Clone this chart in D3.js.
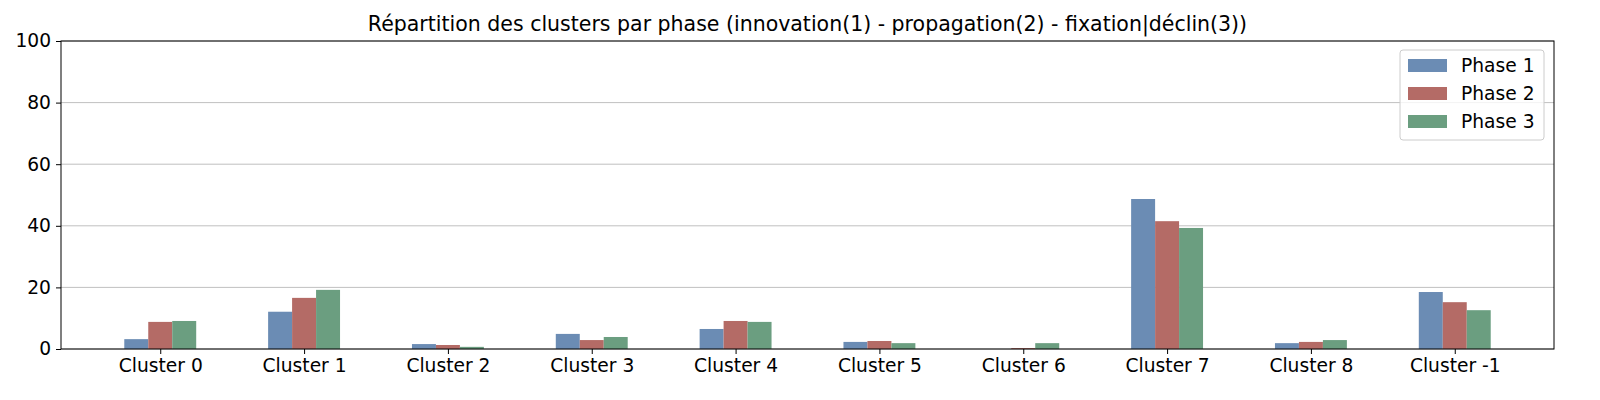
<!DOCTYPE html>
<html><head><meta charset="utf-8">
<script src="https://cdn.jsdelivr.net/npm/d3@7"></script>
<style>body{margin:0;background:#fff}text{font-family:"DejaVu Sans",sans-serif}</style>
</head><body><div id="chart"></div>
<script>
// values
const categories = ["Cluster 0","Cluster 1","Cluster 2","Cluster 3","Cluster 4","Cluster 5","Cluster 6","Cluster 7","Cluster 8","Cluster -1"];
const phases = ["Phase 1","Phase 2","Phase 3"];
const phase1 = [3.2, 12.1, 1.6, 4.9, 6.5, 2.3, 0.0, 48.7, 1.9, 18.5];
const phase2 = [8.8, 16.6, 1.3, 2.9, 9.1, 2.6, 0.3, 41.5, 2.3, 15.2];
const phase3 = [9.1, 19.2, 0.7, 3.9, 8.8, 1.9, 1.9, 39.3, 2.9, 12.6];
const yTicks = [0, 20, 40, 60, 80, 100];
const colors = ["#6b8cb4", "#b46b66", "#6b9e80"];

const W = 1600, H = 400;
const m = {top: 41, right: 46, bottom: 51, left: 61};
const svg = d3.select("#chart").append("svg").attr("width", W).attr("height", H);

const x = d3.scaleLinear().domain([-0.69, 9.69]).range([m.left, W - m.right]);
const y = d3.scaleLinear().domain([0, 100]).range([H - m.bottom, m.top]);
const step = x(1) - x(0);
const bw = step * 0.5 / 3;

// grid
svg.append("g").selectAll("line").data(yTicks).enter().append("line")
    .attr("x1", m.left).attr("x2", W - m.right)
    .attr("y1", d => y(d)).attr("y2", d => y(d))
    .attr("stroke", "#b0b0b0").attr("stroke-width", 0.8);

const series = [phase1, phase2, phase3];
series.forEach((vals, s) => {
    svg.append("g").selectAll("rect").data(vals).enter().append("rect")
        .attr("x", (d, i) => x(i) - 1.5 * bw + s * bw)
        .attr("width", bw)
        .attr("y", d => y(d))
        .attr("height", d => y(0) - y(d))
        .attr("fill", colors[s]);
});

// axes
const yAxis = svg.append("g").attr("transform", `translate(${m.left},0)`)
    .call(d3.axisLeft(y).tickValues(yTicks).tickSize(5).tickPadding(5));
const xAxis = svg.append("g").attr("transform", `translate(0,${H - m.bottom})`)
    .call(d3.axisBottom(x).tickValues(d3.range(categories.length)).tickFormat(i => categories[i]).tickSize(5).tickPadding(5));
[xAxis, yAxis].forEach(a => {
    a.select(".domain").remove();
    a.selectAll("text").attr("font-size", 18.67).attr("fill", "#000").style("font-family", "DejaVu Sans");
    a.selectAll("line").attr("stroke", "#000");
});
svg.append("rect").attr("x", m.left).attr("y", m.top)
    .attr("width", W - m.left - m.right).attr("height", H - m.top - m.bottom)
    .attr("fill", "none").attr("stroke", "#000").attr("stroke-width", 1);

// title
svg.append("text").attr("x", (m.left + W - m.right) / 2).attr("y", 31)
    .attr("text-anchor", "middle").attr("font-size", 20.5)
    .text("Répartition des clusters par phase (innovation(1) - propagation(2) - fixation|déclin(3))");

// legend
const lg = svg.append("g").attr("transform", `translate(${W - m.right - 154},${m.top + 9})`);
lg.append("rect").attr("width", 144).attr("height", 90).attr("rx", 3)
    .attr("fill", "#fff").attr("fill-opacity", 0.8).attr("stroke", "#ccc");
phases.forEach((p, i) => {
    lg.append("rect").attr("x", 8).attr("y", 9 + i * 28).attr("width", 39).attr("height", 13).attr("fill", colors[i]);
    lg.append("text").attr("x", 61).attr("y", 22 + i * 28).attr("font-size", 18.67).text(p);
});
</script>
</body></html>
